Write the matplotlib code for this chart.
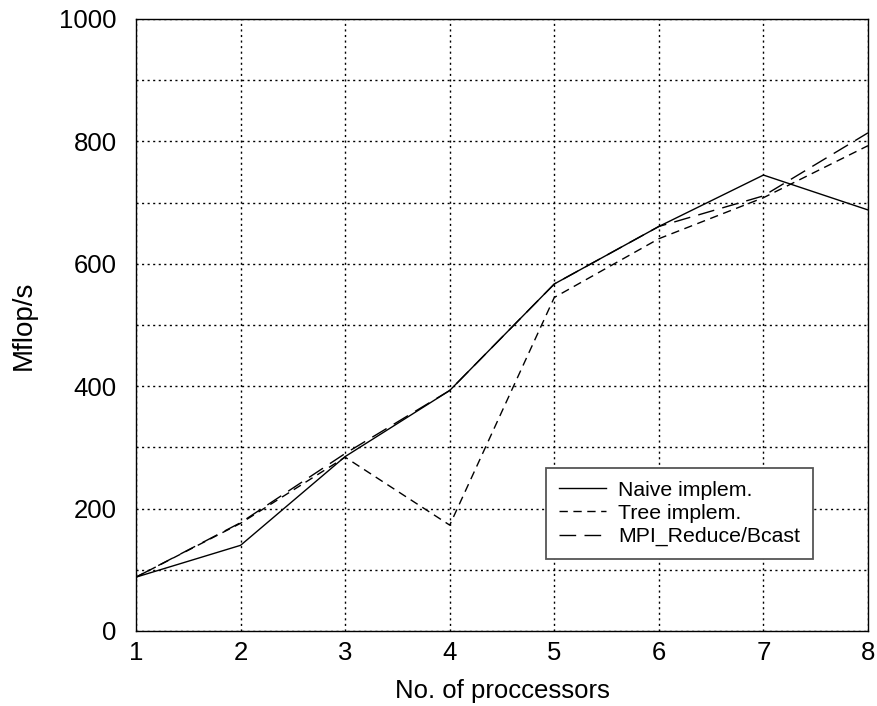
import matplotlib
matplotlib.use("Agg")
import matplotlib.pyplot as plt
from matplotlib.ticker import MultipleLocator

plt.rcParams['font.family'] = ['Liberation Sans', 'DejaVu Sans']

processors = [1, 2, 3, 4, 5, 6, 7, 8]
naive = [88, 140, 285, 393, 567, 661, 745, 688]
tree = [88, 176, 284, 173, 545, 641, 708, 793]
mpi = [88, 177, 290, 393, 567, 661, 711, 814]

fig = plt.figure(figsize=(8.77, 7.06), dpi=100)
ax = fig.add_axes([136 / 877, 1 - 631 / 706, (868 - 136) / 877, (631 - 19) / 706])

ax.plot(processors, naive, color='black', lw=1.0, linestyle='-', label='Naive implem.')
ax.plot(processors, tree, color='black', lw=1.0, linestyle=(0, (6, 4)), label='Tree implem.')
ax.plot(processors, mpi, color='black', lw=1.0, linestyle=(0, (12, 6)), label='MPI_Reduce/Bcast')

ax.set_xlim(1, 8)
ax.set_ylim(0, 1000)
ax.xaxis.set_major_locator(MultipleLocator(1))
ax.yaxis.set_major_locator(MultipleLocator(200))
ax.yaxis.set_minor_locator(MultipleLocator(100))
ax.grid(True, which='both', color='black', linestyle=(0, (1.5, 2.5)), linewidth=1.0)
ax.tick_params(which='both', direction='in', length=0, labelsize=18.5)
ax.tick_params(axis='y', pad=14)
ax.tick_params(axis='x', pad=7)
for s in ax.spines.values():
    s.set_linewidth(1.0)

ax.set_xlabel('No. of proccessors', fontsize=18.5, labelpad=10)
ax.set_ylabel('Mflop/s', fontsize=20, labelpad=16)

leg = ax.legend(loc='lower right', bbox_to_anchor=(813 / 877, 1 - 559 / 706), bbox_transform=fig.transFigure,
                fontsize=15.3, frameon=True, fancybox=False, framealpha=1, edgecolor='#555555',
                handlelength=2.2, handletextpad=0.6, borderpad=0.6, labelspacing=0.2,
                borderaxespad=0)
leg.get_frame().set_linewidth(1.3)

fig.savefig('out.png', dpi=100)
